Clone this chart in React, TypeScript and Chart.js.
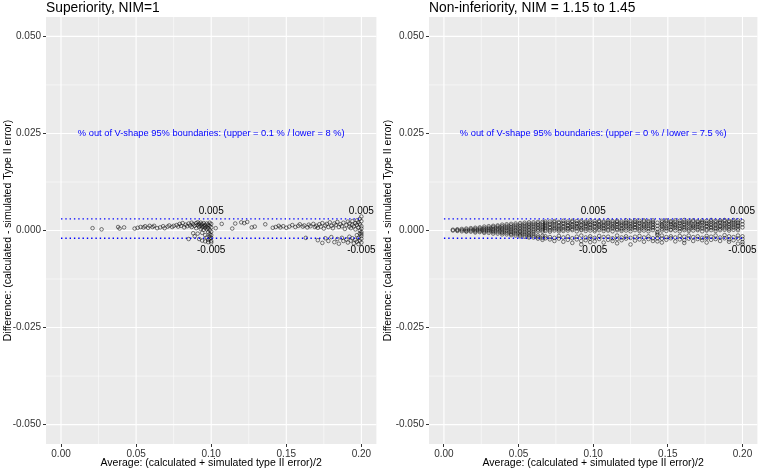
import { useEffect, useRef } from "react";
import { Chart, registerables } from "chart.js";

Chart.register(...registerables);

const FONT = "'Liberation Sans', Arial, sans-serif";

// axes
const xTicks = [0, 0.05, 0.1, 0.15, 0.2];
const yTicks = [-0.05, -0.025, 0, 0.025, 0.05];
const xMinor = [0.025, 0.075, 0.125, 0.175];
const yMinor = [-0.0375, -0.0125, 0.0125, 0.0375];
const xRange = [-0.01, 0.21];
const yRange = [-0.055, 0.055];

// V-shape boundary lines and their labels
const boundX = [0, 0.2];
const boundUpper = 0.003;
const boundLower = -0.002;
const limitLabelX = [0.1, 0.2];
const limitLabelY = [0.005, -0.005];

const noteX = 0.1;
const noteY = 0.025;

const leftTitle = "Superiority, NIM=1";
const rightTitle = "Non-inferiority, NIM = 1.15 to 1.45";
const leftNote = "% out of V-shape 95% boundaries: (upper = 0.1 % / lower = 8 %)";
const rightNote = "% out of V-shape 95% boundaries: (upper = 0 % / lower = 7.5 %)";
const xTitle = "Average: (calculated + simulated type II error)/2";
const yTitle = "Difference: (calculated - simulated Type II error)";

// left panel points [average, difference]
const leftPoints: [number, number][] = [
  [0.021, 0.0006], [0.027, 0.0003], [0.038, 0.0009], [0.039, 0.0005], [0.042, 0.0008], [0.049, 0.0005], [0.051, 0.0007],
  [0.053, 0.0009], [0.055, 0.0008], [0.056, 0.0011], [0.058, 0.0007], [0.059, 0.0012], [0.061, 0.0009], [0.062, 0.0012], [0.064, 0.0006],
  [0.066, 0.0008], [0.068, 0.0011], [0.069, 0.0006], [0.071, 0.001], [0.072, 0.0013], [0.074, 0.0009], [0.075, 0.0012],
  [0.077, 0.0014], [0.078, 0.001], [0.079, 0.0017], [0.08, 0.0012], [0.081, 0.0019], [0.082, 0.0008], [0.083, 0.0015], [0.084, 0.0011],
  [0.085, 0.0018], [0.086, 0.0013], [0.087, 0.002], [0.087, 0.0009], [0.088, 0.0016], [0.089, 0.0012], [0.09, 0.0019], [0.09, 0.0006],
  [0.091, 0.0014], [0.091, 0.0021], [0.092, 0.001], [0.092, 0.0017], [0.093, 0.0004], [0.093, 0.0013], [0.093, 0.002], [0.094, 0.0008],
  [0.094, 0.0016], [0.094, -0.0006], [0.095, 0.0011], [0.095, 0.0019], [0.095, 0.0002], [0.096, 0.0014], [0.096, 0.0007], [0.096, -0.0012],
  [0.097, 0.0018], [0.097, 0.001], [0.097, 0.0003], [0.097, -0.0018], [0.098, 0.0015], [0.098, 0.0006], [0.098, -0.0004], [0.098, -0.0024],
  [0.099, 0.002], [0.099, 0.0012], [0.099, 0.0001], [0.099, -0.0009], [0.099, -0.0015], [0.099, -0.0021], [0.1, 0.0017], [0.1, 0.0008],
  [0.1, -0.0003], [0.1, -0.0012], [0.1, -0.0019], [0.1, -0.0027], [0.1, -0.0031],
  [0.085, -0.0022], [0.088, -0.0007], [0.089, -0.0015], [0.091, -0.0008], [0.092, -0.0022], [0.094, -0.0026], [0.096, -0.0028], [0.098, -0.003],
  [0.103, 0.0006], [0.107, 0.0017], [0.114, 0.0005], [0.116, 0.0018], [0.12, 0.0021], [0.122, 0.0019], [0.124, 0.0022], [0.127, 0.0008],
  [0.129, 0.001], [0.136, 0.0016], [0.141, 0.0007], [0.143, 0.0009], [0.145, 0.0012], [0.146, 0.0008], [0.148, 0.0011], [0.15, 0.0007],
  [0.152, 0.001], [0.154, 0.0014], [0.156, 0.0009], [0.158, 0.0012], [0.159, 0.0016], [0.161, 0.001], [0.162, 0.0013], [0.163, -0.0019],
  [0.164, 0.0008], [0.165, 0.0015], [0.166, 0.0011], [0.168, 0.0017], [0.169, 0.0009],
  [0.17, 0.0012], [0.171, 0.0007], [0.172, 0.0016], [0.173, 0.001], [0.174, 0.0019], [0.175, 0.0005], [0.176, 0.0013], [0.177, 0.0017],
  [0.178, 0.0009], [0.179, 0.0021], [0.18, 0.0012], [0.181, 0.0006], [0.182, 0.0018], [0.183, 0.0014], [0.184, 0.0022], [0.185, 0.0009],
  [0.186, 0.0016], [0.187, 0.0011], [0.188, 0.002], [0.189, 0.0004], [0.19, 0.0014], [0.191, 0.0023], [0.192, 0.001], [0.192, 0.0018],
  [0.193, 0.0006], [0.194, 0.0015], [0.194, 0.0024], [0.195, 0.0011], [0.196, 0.0019], [0.196, 0.0003], [0.197, 0.0014], [0.197, 0.0026],
  [0.198, 0.0008], [0.198, 0.0021], [0.199, 0.0016], [0.199, 0.0], [0.199, 0.003], [0.2, 0.0011], [0.2, 0.0024], [0.2, 0.0036],
  [0.2, 0.0005], [0.2, -0.0004],
  [0.171, -0.0025], [0.174, -0.0032], [0.176, -0.002], [0.178, -0.0027], [0.18, -0.0017], [0.182, -0.003], [0.184, -0.0022], [0.185, -0.0034],
  [0.187, -0.0019], [0.188, -0.0027], [0.19, -0.0023], [0.191, -0.0031], [0.192, -0.0016], [0.193, -0.0026], [0.194, -0.002], [0.195, -0.0033],
  [0.196, -0.0024], [0.197, -0.0012], [0.197, -0.0029], [0.198, -0.0019], [0.198, -0.0035], [0.199, -0.0008], [0.199, -0.0026], [0.2, -0.0014],
  [0.2, -0.0021], [0.2, -0.0031], [0.2, -0.0009],
];

// right panel points, grouped by average: [average, differences]
const rightColumns: [number, number[]][] = [
  [0.006, [0.0002, 0.0]],
  [0.009, [0.0003, -0.0001, 0.0001]],
  [0.012, [0.0004, 0.0001, -0.0002]],
  [0.015, [0.0005, 0.0002, -0.0001, -0.0003]],
  [0.018, [0.0006, 0.0003, 0.0, -0.0003]],
  [0.021, [0.0007, 0.0004, 0.0001, -0.0002, -0.0005]],
  [0.024, [0.0008, 0.0005, 0.0002, -0.0001, -0.0004]],
  [0.027, [0.001, 0.0006, 0.0003, 0.0, -0.0003, -0.0006]],
  [0.03, [0.0011, 0.0007, 0.0004, 0.0001, -0.0002, -0.0006]],
  [0.033, [0.0012, 0.0009, 0.0005, 0.0002, -0.0001, -0.0004, -0.0008]],
  [0.036, [0.0013, 0.001, 0.0006, 0.0003, 0.0, -0.0004, -0.0008]],
  [0.039, [0.0015, 0.0011, 0.0007, 0.0004, 0.0001, -0.0003, -0.0006, -0.001]],
  [0.042, [0.0016, 0.0012, 0.0008, 0.0005, 0.0001, -0.0002, -0.0006, -0.001]],
  [0.045, [0.0017, 0.0013, 0.0009, 0.0005, 0.0002, -0.0002, -0.0005, -0.0009, -0.0012]],
  [0.048, [0.0018, 0.0014, 0.001, 0.0006, 0.0002, -0.0001, -0.0005, -0.0009, -0.0013]],
  [0.051, [0.0019, 0.0015, 0.0011, 0.0007, 0.0003, -0.0001, -0.0004, -0.0008, -0.0012, -0.0015]],
  [0.054, [0.002, 0.0016, 0.0012, 0.0008, 0.0004, 0.0, -0.0004, -0.0008, -0.0012, -0.0016]],
  [0.057, [0.0021, 0.0017, 0.0013, 0.0009, 0.0005, 0.0001, -0.0003, -0.0007, -0.0011, -0.0015, -0.0018]],
  [0.06, [0.0021, 0.0017, 0.0013, 0.0009, 0.0004, 0.0, -0.0004, -0.0009, -0.0014, -0.0018]],
  [0.063, [0.0022, 0.0018, 0.0014, 0.001, 0.0006, 0.0002, -0.0002, -0.0013, -0.0017, -0.0021]],
  [0.066, [0.0022, 0.0018, 0.0013, 0.0009, 0.0005, 0.0001, -0.0003, -0.0014, -0.0019, -0.0024]],
  [0.068, [0.0023, 0.0019, 0.0015, 0.0011, 0.0007, 0.0003, -0.0001, -0.0015, -0.002]],
  [0.071, [0.0023, 0.0018, 0.0015, 0.0009, 0.0006, 0.0001, -0.0003, -0.0017, -0.0023]],
  [0.074, [0.0024, 0.0021, 0.0016, 0.0012, 0.0007, 0.0004, 0.0, -0.0019, -0.0027]],
  [0.077, [0.0022, 0.0019, 0.0013, 0.001, 0.0005, 0.0002, -0.0002, -0.0014, -0.0021]],
  [0.08, [0.0025, 0.002, 0.0017, 0.0011, 0.0008, 0.0003, -0.0001, -0.0018, -0.0029]],
  [0.083, [0.0023, 0.0019, 0.0014, 0.0012, 0.0006, 0.0004, 0.0, -0.0015, -0.0024]],
  [0.086, [0.0025, 0.0022, 0.0016, 0.0013, 0.0009, 0.0004, 0.0001, -0.002, -0.0032]],
  [0.089, [0.0024, 0.0019, 0.0017, 0.0011, 0.0008, 0.0005, -0.0002, -0.0016, -0.0023]],
  [0.092, [0.0025, 0.0021, 0.0015, 0.0013, 0.0007, 0.0003, 0.0001, -0.0013, -0.0027, -0.0036]],
  [0.095, [0.0023, 0.002, 0.0017, 0.0012, 0.0009, 0.0004, -0.0001, -0.0018, -0.0025]],
  [0.098, [0.0026, 0.0021, 0.0016, 0.0014, 0.0008, 0.0005, 0.0, -0.0015, -0.0021, -0.003]],
  [0.101, [0.0024, 0.0019, 0.0017, 0.0011, 0.0008, 0.0002, -0.0002, -0.0019, -0.0028]],
  [0.104, [0.0025, 0.0022, 0.0016, 0.0013, 0.001, 0.0005, 0.0001, -0.0014, -0.0022]],
  [0.107, [0.0023, 0.002, 0.0015, 0.0012, 0.0007, 0.0004, -0.0001, -0.0017, -0.0031]],
  [0.11, [0.0026, 0.0021, 0.0018, 0.0013, 0.0009, 0.0003, 0.0, -0.0016, -0.0024]],
  [0.113, [0.0024, 0.002, 0.0016, 0.0011, 0.0008, 0.0005, -0.0002, -0.002, -0.0027]],
  [0.116, [0.0025, 0.0022, 0.0017, 0.0014, 0.0009, 0.0004, 0.0001, -0.0013, -0.0022, -0.0033]],
  [0.119, [0.0023, 0.0019, 0.0015, 0.0012, 0.0006, 0.0003, -0.0001, -0.0018, -0.0025]],
  [0.122, [0.0026, 0.0021, 0.0018, 0.0013, 0.001, 0.0005, 0.0, -0.0015, -0.0021]],
  [0.125, [0.0024, 0.002, 0.0016, 0.0011, 0.0008, 0.0004, -0.0002, -0.0019, -0.0036]],
  [0.128, [0.0026, 0.0022, 0.0017, 0.0014, 0.0009, 0.0006, 0.0001, -0.0016, -0.0026]],
  [0.131, [0.0025, 0.002, 0.0018, 0.0012, 0.0008, 0.0003, -0.0001, -0.0014, -0.0023]],
  [0.134, [0.0026, 0.0023, 0.0016, 0.0013, 0.001, 0.0005, 0.0, -0.0018, -0.0029]],
  [0.137, [0.0024, 0.0021, 0.0017, 0.0012, 0.0007, 0.0004, -0.0002, -0.0015, -0.0022]],
  [0.14, [0.0026, 0.0022, 0.0018, 0.0014, 0.0009, 0.0006, 0.0001, -0.002, -0.0027]],
  [0.143, [0.002, 0.0012, 0.0004, -0.0004, -0.0008, -0.0012, -0.002, -0.0028]],
  [0.146, [0.0025, 0.0021, 0.0016, 0.0013, 0.001, 0.0004, 0.0, -0.0013, -0.0021, -0.0031]],
  [0.149, [0.0026, 0.0023, 0.0018, 0.0012, 0.0008, 0.0005, -0.0001, -0.0017, -0.0024]],
  [0.152, [0.0024, 0.0021, 0.0017, 0.0014, 0.0009, 0.0003, 0.0001, -0.0015, -0.002]],
  [0.155, [0.0026, 0.0022, 0.0016, 0.0013, 0.001, 0.0006, 0.0, -0.0018, -0.0028]],
  [0.158, [0.0025, 0.002, 0.0018, 0.0012, 0.0007, 0.0004, -0.0002, -0.0014, -0.0023]],
  [0.161, [0.0027, 0.0022, 0.0017, 0.0014, 0.0009, 0.0005, 0.0001, -0.0016, -0.0025, -0.0032]],
  [0.164, [0.0025, 0.0021, 0.0018, 0.0013, 0.0008, 0.0003, -0.0001, -0.0013, -0.0021]],
  [0.167, [0.0026, 0.0023, 0.0016, 0.0012, 0.001, 0.0006, 0.0, -0.0017, -0.0027]],
  [0.17, [0.0024, 0.0021, 0.0017, 0.0014, 0.0009, 0.0004, 0.0001, -0.0015, -0.0022]],
  [0.173, [0.0026, 0.0022, 0.0019, 0.0013, 0.0008, 0.0005, -0.0002, -0.0019, -0.0025]],
  [0.176, [0.0025, 0.002, 0.0017, 0.0012, 0.001, 0.0003, 0.0, -0.0014, -0.002, -0.0031]],
  [0.179, [0.0027, 0.0023, 0.0018, 0.0014, 0.0009, 0.0006, 0.0001, -0.0016, -0.0024]],
  [0.182, [0.0025, 0.0021, 0.0016, 0.0013, 0.0007, 0.0004, -0.0001, -0.0013, -0.0022]],
  [0.185, [0.0026, 0.0022, 0.0019, 0.0012, 0.001, 0.0005, 0.0001, -0.0018, -0.0027]],
  [0.188, [0.0027, 0.0024, 0.0018, 0.0015, 0.0011, 0.0006, 0.0002, -0.0012, -0.002]],
  [0.191, [0.0025, 0.0022, 0.0017, 0.0013, 0.0009, 0.0004, 0.0, -0.0015, -0.0023, -0.0029]],
  [0.194, [0.0027, 0.0023, 0.0019, 0.0015, 0.001, 0.0007, 0.0002, -0.0017, -0.0025]],
  [0.197, [0.0026, 0.0021, 0.0018, 0.0013, 0.0011, 0.0005, 0.0001, -0.0013, -0.0021, -0.0034]],
  [0.2, [0.0024, 0.0016, 0.0008, -0.0015, -0.0022, -0.003, -0.0036]],
];

const rightPoints: [number, number][] = rightColumns.flatMap(([x, ys]) => ys.map((y) => [x, y] as [number, number]));

type PanelProps = {
  title: string;
  note: string;
  points: [number, number][];
  padLeft: number;
  padRight: number;
  yAxisWidth: number;
};

function Panel({ title, note, points, padLeft, padRight, yAxisWidth }: PanelProps) {
  const ref = useRef<HTMLCanvasElement | null>(null);

  useEffect(() => {
    if (!ref.current) return;

    const ggPanel = {
      id: "ggPanel",
      beforeDraw(chart: any) {
        const { ctx, chartArea: a, scales } = chart;
        const xs = scales.x;
        const ys = scales.y;
        ctx.save();
        ctx.fillStyle = "#EBEBEB";
        ctx.fillRect(a.left, a.top, a.right - a.left, a.bottom - a.top);
        ctx.strokeStyle = "#FFFFFF";
        ctx.lineWidth = 0.55;
        ctx.beginPath();
        xMinor.forEach((v) => {
          const p = xs.getPixelForValue(v);
          ctx.moveTo(p, a.top);
          ctx.lineTo(p, a.bottom);
        });
        yMinor.forEach((v) => {
          const p = ys.getPixelForValue(v);
          ctx.moveTo(a.left, p);
          ctx.lineTo(a.right, p);
        });
        ctx.stroke();
        ctx.lineWidth = 1.1;
        ctx.beginPath();
        xTicks.forEach((v) => {
          const p = xs.getPixelForValue(v);
          ctx.moveTo(p, a.top);
          ctx.lineTo(p, a.bottom);
        });
        yTicks.forEach((v) => {
          const p = ys.getPixelForValue(v);
          ctx.moveTo(a.left, p);
          ctx.lineTo(a.right, p);
        });
        ctx.stroke();
        ctx.restore();
      },
      afterDatasetsDraw(chart: any) {
        const { ctx, chartArea: a, scales } = chart;
        const xs = scales.x;
        const ys = scales.y;
        ctx.save();
        ctx.textAlign = "center";
        ctx.textBaseline = "middle";
        ctx.fillStyle = "#000000";
        ctx.font = `10px ${FONT}`;
        limitLabelX.forEach((lx) => {
          limitLabelY.forEach((ly) => {
            ctx.fillText(ly.toFixed(3), xs.getPixelForValue(lx), ys.getPixelForValue(ly));
          });
        });
        ctx.fillStyle = "#0000FF";
        ctx.font = `9.3px ${FONT}`;
        ctx.fillText(note, xs.getPixelForValue(noteX), ys.getPixelForValue(noteY));
        ctx.fillStyle = "#000000";
        ctx.font = `13.8px ${FONT}`;
        ctx.textAlign = "left";
        ctx.fillText(title, a.left, 8);
        ctx.restore();
      },
    };

    const lineStyle = {
      type: "line" as const,
      borderColor: "#0000FF",
      borderWidth: 1.4,
      borderDash: [1.4, 2.9],
      pointRadius: 0,
      fill: false,
      showLine: true,
    };

    const chart = new Chart(ref.current, {
      type: "scatter",
      data: {
        datasets: [
          { ...lineStyle, data: boundX.map((x) => ({ x, y: boundUpper })) },
          { ...lineStyle, data: boundX.map((x) => ({ x, y: boundLower })) },
          {
            type: "scatter",
            data: points.map(([x, y]) => ({ x, y })),
            pointRadius: 1.8,
            borderWidth: 0.6,
            pointBorderWidth: 0.6,
            borderColor: "rgba(0,0,0,0.85)",
            pointBorderColor: "rgba(0,0,0,0.85)",
            backgroundColor: "rgba(0,0,0,0)",
            pointBackgroundColor: "rgba(0,0,0,0)",
          } as any,
        ],
      },
      options: {
        animation: false,
        responsive: false,
        devicePixelRatio: 1,
        layout: { padding: { top: 17, left: padLeft, right: padRight, bottom: 2 } },
        plugins: { legend: { display: false }, tooltip: { enabled: false }, title: { display: false } },
        events: [],
        scales: {
          x: {
            type: "linear",
            min: xRange[0],
            max: xRange[1],
            afterBuildTicks: (s: any) => {
              s.ticks = xTicks.map((value) => ({ value }));
            },
            afterFit: (s: any) => {
              s.height = 25;
            },
            ticks: {
              callback: (v: any) => Number(v).toFixed(2),
              font: { family: FONT, size: 10 },
              color: "#333333",
              padding: 1,
              maxRotation: 0,
              autoSkip: false,
            },
            grid: { drawOnChartArea: false, drawTicks: true, tickLength: 3, tickColor: "#333333", tickWidth: 1 },
            border: { display: false },
            title: {
              display: true,
              text: xTitle,
              color: "#000000",
              font: { family: FONT, size: 10.5 },
              padding: { top: 0, bottom: 0 },
            },
          },
          y: {
            type: "linear",
            min: yRange[0],
            max: yRange[1],
            afterBuildTicks: (s: any) => {
              s.ticks = yTicks.map((value) => ({ value }));
            },
            afterFit: (s: any) => {
              s.width = yAxisWidth;
            },
            ticks: {
              callback: (v: any) => Number(v).toFixed(3),
              font: { family: FONT, size: 10 },
              color: "#333333",
              padding: 2,
              autoSkip: false,
            },
            grid: { drawOnChartArea: false, drawTicks: true, tickLength: 3, tickColor: "#333333", tickWidth: 1 },
            border: { display: false },
            title: {
              display: true,
              text: yTitle,
              color: "#000000",
              font: { family: FONT, size: 10.5 },
              padding: { top: 0, bottom: 0 },
            },
          },
        },
      },
      plugins: [ggPanel],
    } as any);

    return () => chart.destroy();
  }, [title, note, points, padLeft, padRight, yAxisWidth]);

  return <canvas ref={ref} width={381} height={471} style={{ display: "block", width: 381, height: 471 }} />;
}

export default function App() {
  return (
    <div style={{ position: "absolute", left: 0, top: 0, width: 762, height: 471, display: "flex", background: "#FFFFFF" }}>
      <Panel title={leftTitle} note={leftNote} points={leftPoints} padLeft={2} padRight={3} yAxisWidth={44} />
      <Panel title={rightTitle} note={rightNote} points={rightPoints} padLeft={1} padRight={2} yAxisWidth={47} />
    </div>
  );
}
